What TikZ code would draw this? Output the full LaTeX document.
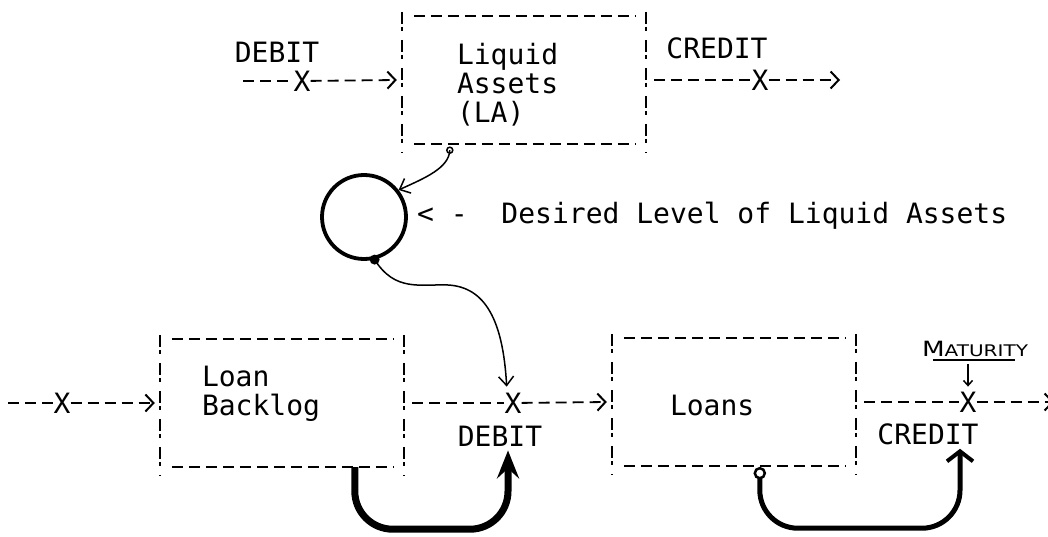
\documentclass[tikz,border=0pt]{standalone}
\usepackage{graphicx}
\usepackage{fontspec}
\setmonofont{DejaVu Sans Mono}
\newfontfamily\handfont{DejaVu Sans}
\usetikzlibrary{arrows.meta,calc}
\newcommand\typed{\ttfamily\fontsize{28}{29}\selectfont}
\tikzset{
  stock/.style={rectangle,minimum width=244pt,minimum height=128pt,inner sep=0pt},
  edgeh/.style={line width=2pt,dash pattern=on 11pt off 6pt},
  edgev/.style={line width=2pt,dash pattern=on 12pt off 3pt on 4pt off 9pt},
  rate/.style={line width=1.8pt,dash pattern=on 11pt off 6pt},
  ratetip/.style={-{Straight Barb[length=8pt,width=17pt,line width=2pt]}},
  valve/.style={font=\typed,inner sep=0pt},
  txt/.style={font=\typed,inner sep=0pt,align=left},
  info/.style={line width=1.5pt},
  ctrl/.style={line width=7pt,rounded corners=38pt},
}
\begin{document}
\begin{tikzpicture}[x=1pt,y=-1pt]
  \useasboundingbox (0,0) rectangle (1048,537);
  \fill[white] (0,0) rectangle (1048,537);
  % levels
  \node[stock] (LA) at (524,80) {};
  \node[stock] (LB) at (282,403) {};
  \node[stock] (LN) at (734,402) {};
  \foreach \b in {LA,LB,LN}{
    \draw[edgeh] ([xshift=12pt]\b.north west) -- ([xshift=-10pt]\b.north east);
    \draw[edgeh] ([xshift=12pt]\b.south west) -- ([xshift=-10pt]\b.south east);
    \draw[edgev] ([yshift=4pt]\b.north west) -- ([yshift=-8pt]\b.south west);
    \draw[edgev] ([yshift=4pt]\b.north east) -- ([yshift=-8pt]\b.south east);
  }
  \node[txt,anchor=north west] (LAtxt) at ([xshift=55pt,yshift=-27pt]LA.north west) {Liquid\\Assets\\(LA)};
  \node[txt,anchor=north west] (LBtxt) at ([xshift=42pt,yshift=-27pt]LB.north west) {Loan\\Backlog};
  \node[txt,anchor=north west] (LNtxt) at ([xshift=58pt,yshift=-57pt]LN.north west) {Loans};

  % rates
  \coordinate (srcLA) at (243,81);
  \coordinate (snkLA) at (840,80);
  \coordinate (srcLB) at (8,403);
  \coordinate (snkLN) at (1054,402);
  \node[valve] (vLAin) at (302,81) {X};
  \node[valve] (vLAout) at (760,80) {X};
  \node[valve] (vLB) at (62,403) {X};
  \node[valve] (vMid) at (513,403) {X};
  \node[valve] (vOut) at (968,402) {X};
  \draw[rate] (srcLA) -- (vLAin);
  \draw[rate,ratetip] (vLAin) -- ([xshift=-5pt]LA.west);
  \draw[rate] ([xshift=8pt]LA.east) -- (vLAout);
  \draw[rate,ratetip] (vLAout) -- (snkLA);
  \draw[rate] (srcLB) -- (vLB);
  \draw[rate,ratetip] (vLB) -- ([xshift=-5pt]LB.west);
  \draw[rate] ([xshift=8pt]LB.east) -- (vMid);
  \draw[rate,ratetip] (vMid) -- ([xshift=-5pt]LN.west);
  \draw[rate] ([xshift=8pt]LN.east) -- (vOut);
  \draw[rate,ratetip] (vOut) -- (snkLN);

  \node[txt] (dbtLA) at (277,52) {DEBIT};
  \node[txt] (crdLA) at (717,48) {CREDIT};
  \node[txt] (dbt) at (500,436) {DEBIT};
  \node[txt] (crd) at (928,434) {CREDIT};

  % desired level
  \node[circle,draw,line width=3.8pt,minimum size=84pt,inner sep=0pt] (cmp) at (364,217) {};
  \node[txt,anchor=base west] (dsr) at (417,223) {<~-~~Desired Level of Liquid Assets};
  \coordinate (pLA) at ($(LA.south west)+(48,6)$);
  \draw[info] (pLA) circle (3pt);
  \draw[info,-{Straight Barb[length=9pt,width=16pt]}] (pLA) .. controls (449,168) and (425,178) .. (cmp.38);
  \fill (cmp.-76) circle (5pt);
  \draw[info,-{Straight Barb[length=9pt,width=15pt]},shorten >=6pt] (cmp.-76) .. controls (395,292) and (420,284) .. (448,285)
    .. controls (485,287) and (503,320) .. ([xshift=-6pt]vMid.north);

  % maturity
  \node[inner sep=3pt] (mat) at (975,349) {\handfont\scalebox{1.25}[1]{\fontsize{21}{21}\selectfont M\fontsize{16}{16}\selectfont ATURITY}};
  \draw[line width=1.2pt,shorten <=14pt,shorten >=16pt] (mat.south west) -- (mat.south east);
  \draw[info,-{Straight Barb[length=5pt,width=9pt]},shorten <=4pt,shorten >=5pt] (vOut |- mat.south) -- (vOut.north);

  % loan flows
  \draw[ctrl,-{Stealth[length=28pt,width=22pt,inset=10pt]},shorten >=4pt] ($(LB.south west)+(195,0)$) -- ++(0,62) -| ([xshift=8pt]dbt.south);
  \coordinate (rLN) at ($(LN.south west)+(148,7)$);
  \draw[line width=2.5pt] (rLN) circle (5pt);
  \draw[ctrl,line width=5pt,-{Straight Barb[length=10pt,width=26pt,line width=4pt]},shorten >=4pt] ($(rLN)+(0,5)$) -- ++(0,50) -| ([xshift=32pt]crd.south);
\end{tikzpicture}
\end{document}
